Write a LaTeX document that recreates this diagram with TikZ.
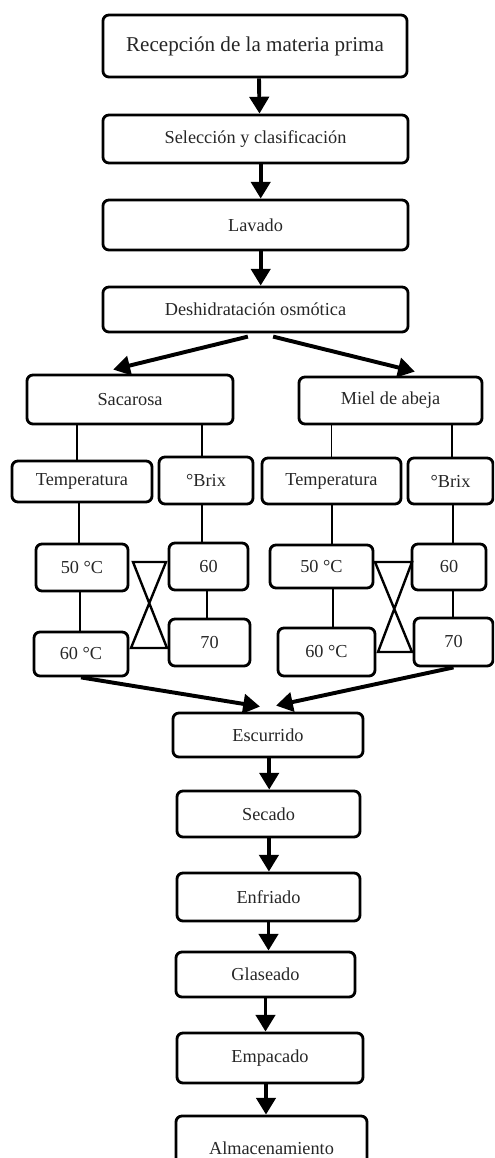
\documentclass[tikz,border=0pt]{standalone}
\usepackage{fontspec}
\setmainfont{Liberation Serif}
\usetikzlibrary{arrows.meta}
\tikzset{
  stage/.style 2 args={draw, rounded corners=0.15cm, line width=2pt,
    minimum width=#1, minimum height=#2, inner sep=0pt,
    text=black!85, font=\fontsize{13}{15}\selectfont},
  flow/.style={line width=2.8pt, -{Triangle[length=0.42cm,width=0.48cm]}},
  link/.style={line width=1.2pt},
  cross/.style={line width=1.7pt, line join=miter}
}
\begin{document}
\begin{tikzpicture}[x=0.025cm, y=-0.025cm]
        \useasboundingbox (0,0) rectangle (494,1158);
        \clip (0,0) rectangle (494,1158);
        % main line
        \node[stage={7.6cm}{1.55cm}, font=\fontsize{15}{18}\selectfont] (rec) at (255,46) {Recepción de la materia prima};
        \node[stage={7.625cm}{1.2cm}]   (sel) at (255.5,139)   {Selección y clasificación};
        \node[stage={7.625cm}{1.25cm}]  (lav) at (255.5,225)   {Lavado};
        \node[stage={7.625cm}{1.125cm}] (des) at (255.5,309.5) {Deshidratación osmótica};

        % sacarosa branch
        \node[stage={5.15cm}{1.225cm}]  (sac)   at (130,399.5) {Sacarosa};
        \node[stage={3.5cm}{1.025cm}]   (tempL) at (82,481.5)  {Temperatura};
        \node[stage={2.35cm}{1.175cm}]  (brixL) at (206,480.5) {°Brix};
        \node[stage={2.3cm}{1.175cm}]   (c50L)  at (82,567.5)  {50 °C};
        \node[stage={2.35cm}{1.1cm}]    (c60L)  at (81,654)    {60 °C};
        \node[stage={1.975cm}{1.175cm}] (b60L)  at (208.5,566.5) {60};
        \node[stage={2.025cm}{1.175cm}] (b70L)  at (209.5,642.5) {70};

        % miel branch
        \node[stage={4.575cm}{1.175cm}] (miel)  at (390.5,400.5) {Miel de abeja};
        \node[stage={3.475cm}{1.15cm}]  (tempR) at (331.5,481) {Temperatura};
        \node[stage={2.125cm}{1.15cm}]  (brixR) at (450.5,481) {°Brix};
        \node[stage={2.575cm}{1.075cm}] (c50R)  at (321.5,566.5) {50 °C};
        \node[stage={2.425cm}{1.2cm}]   (c60R)  at (326.5,652) {60 °C};
        \node[stage={1.85cm}{1.15cm}]   (b60R)  at (449,567)   {60};
        \node[stage={1.975cm}{1.2cm}]   (b70R)  at (453.5,642) {70};

        % final steps
        \node[stage={4.75cm}{1.1cm}]    (esc) at (268,735)    {Escurrido};
        \node[stage={4.575cm}{1.15cm}]  (sec) at (268.5,814)  {Secado};
        \node[stage={4.575cm}{1.2cm}]   (enf) at (268.5,897)  {Enfriado};
        \node[stage={4.475cm}{1.125cm}] (gla) at (265.5,974.5) {Glaseado};
        \node[stage={4.65cm}{1.25cm}]   (emp) at (270,1058)   {Empacado};
        \node[stage={4.775cm}{1.6cm}]   (alm) at (271.5,1148) {Almacenamiento};

        % arrows of the main line
        \draw[flow] ([xshift=0.1cm]rec.south) -- ([xshift=0.1cm]sel.north);
        \draw[flow] ([xshift=0.13cm]sel.south) -- ([xshift=0.13cm]lav.north);
        \draw[flow] ([xshift=0.13cm]lav.south) -- ([xshift=0.13cm]des.north);
        \draw[flow] ([xshift=-0.19cm,yshift=-0.08cm]des.south) -- ([xshift=-0.42cm,yshift=0.1cm]sac.north);
        \draw[flow] ([xshift=0.44cm,yshift=-0.08cm]des.south) -- ([xshift=0.61cm,yshift=0.1cm]miel.north);

        % thin links
        \draw[link] ([xshift=-0.125cm]tempL.north) -- ([xshift=-0.125cm]tempL.north |- sac.south);
        \draw[link] ([xshift=-0.1cm]brixL.north)   -- ([xshift=-0.1cm]brixL.north |- sac.south);
        \draw[link] ([xshift=-0.07cm]c50L.north)   -- ([xshift=-0.07cm]c50L.north |- tempL.south);
        \draw[link] ([xshift=-0.05cm]c50L.south)   -- ([xshift=-0.05cm]c50L.south |- c60L.north);
        \draw[link] ([xshift=-0.16cm]b60L.north)   -- ([xshift=-0.16cm]b60L.north |- brixL.south);
        \draw[link] ([xshift=-0.04cm]b60L.south)   -- ([xshift=-0.04cm]b60L.south |- b70L.north);
        \draw[link] (tempR.north) -- (tempR.north |- miel.south);
        \draw[link] ([xshift=0.04cm]brixR.north) -- ([xshift=0.04cm]brixR.north |- miel.south);
        \draw[link] ([xshift=0.26cm]c50R.north) -- ([xshift=0.26cm]c50R.north |- tempR.south);
        \draw[link] ([xshift=0.29cm]c50R.south) -- ([xshift=0.29cm]c50R.south |- c60R.north);
        \draw[link] ([xshift=0.1cm]b60R.north) -- ([xshift=0.1cm]b60R.north |- brixR.south);
        \draw[link] ([xshift=0.1cm]b60R.south) -- ([xshift=0.1cm]b60R.south |- b70R.north);

        % hourglass marks
        \draw[cross] (133,562) -- (166,562) -- (131,648) -- (167,648) -- cycle;
        \draw[cross] (375,562) -- (412,562) -- (378,652) -- (412,652) -- cycle;

        % arrows into escurrido
        \draw[flow] (c60L.south) -- ([xshift=-0.2cm,yshift=0.125cm]esc.north);
        \draw[flow] (b70R.south) -- ([xshift=0.2cm,yshift=0.15cm]esc.north);

        % arrows of the final steps
        \draw[flow] ([xshift=0.03cm]esc.south) -- ([xshift=0.03cm]esc.south |- sec.north);
        \draw[flow] ([xshift=0.01cm]sec.south) -- ([xshift=0.01cm]sec.south |- enf.north);
        \draw[flow] (enf.south) -- (enf.south |- gla.north);
        \draw[flow] (gla.south) -- (gla.south |- emp.north);
        \draw[flow] ([xshift=-0.1cm]emp.south) -- ([xshift=-0.1cm]emp.south |- alm.north);
    \end{tikzpicture}
\end{document}
